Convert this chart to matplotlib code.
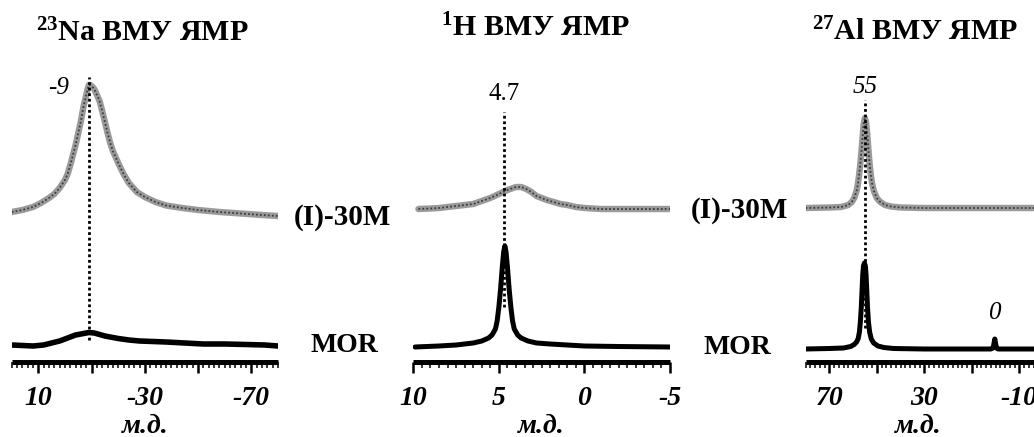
import matplotlib
matplotlib.use('Agg')
import matplotlib.pyplot as plt
from matplotlib.ticker import FixedLocator, MultipleLocator, FixedFormatter

plt.rcParams['font.family'] = ['Liberation Serif', 'DejaVu Serif']
plt.rcParams['mathtext.fontset'] = 'custom'
plt.rcParams['mathtext.rm'] = 'Liberation Serif:bold'
plt.rcParams['mathtext.it'] = 'Liberation Serif:italic:bold'
plt.rcParams['mathtext.bf'] = 'Liberation Serif:bold'

# ---------------- data ----------------
titles = ['$^{23}$Na ВМУ ЯМР', '$^{1}$H ВМУ ЯМР', '$^{27}$Al ВМУ ЯМР']
sample_top = '(I)-30M'
sample_bottom = 'MOR'
x_label = 'м.д.'

# 23Na
na_ppm_30m = [20, 16, 12, 9, 6, 4, 2, 0, -1, -2, -3, -4, -5, -6, -7, -8, -8.5, -9, -9.5,
              -10, -11, -12, -13, -14, -15, -16, -17, -18, -19, -20, -22, -24, -27, -30,
              -34, -38, -44, -50, -58, -66, -74, -80]
na_int_30m = [4, 6, 9, 13, 18, 22, 28, 36, 42, 51, 61, 71, 83, 95, 110, 121, 127, 131, 131,
              130, 127, 121, 115, 105, 94, 83, 73, 65, 59, 53, 42, 33, 24, 19,
              14, 10.5, 8, 6, 4, 2.5, 1, 0]
na_ppm_mor = [20, 16, 12, 8, 5, 2, 0, -2, -4, -6, -8, -9, -11, -13, -15, -17, -20, -24,
              -28, -33, -38, -45, -52, -60, -68, -75, -80]
na_int_mor = [1, 0.5, 0, 1, 3, 5, 7, 9, 11, 12, 13, 13.5, 13, 11.5, 10, 9, 7.5, 6,
              5, 4.5, 4, 3, 2, 2, 1.5, 1, 0]
na_peak = -9
na_peak_label = '-9'
na_ticks = [10, -10, -30, -50, -70]
na_ticklabels = ['10', '', '-30', '', '-70']

# 1H
h_ppm_30m = [9.7, 9.0, 8.5, 8.0, 7.5, 7.0, 6.5, 6.0, 5.5, 5.0, 4.5, 4.0, 3.7, 3.4, 3.1,
             2.8, 2.5, 2.2, 1.8, 1.4, 1.0, 0.5, 0.0, -0.5, -1.0, -5.0]
h_int_30m = [0, 0.5, 1, 2, 3, 4, 5, 8, 11, 15, 19, 22, 22, 20, 17,
             13, 11, 9, 7, 5, 4, 2, 1, 0.5, 0, 0]
h_ppm_mor = [9.9, 8.5, 7.5, 6.5, 6.0, 5.6, 5.4, 5.2, 5.1, 5.0, 4.9, 4.8, 4.72, 4.65,
             4.58, 4.5, 4.4, 4.3, 4.2, 4.1, 3.9, 3.7, 3.3, 2.8, 2.0, 1.0, 0.0, -2.0, -5.0]
h_int_mor = [0, 1, 2, 4, 6, 9, 12, 18, 26, 40, 58, 80, 95, 101,
             95, 80, 58, 40, 26, 18, 12, 9, 6, 4, 3, 2, 1, 0.5, 0]
h_peak = 4.7
h_peak_label = '4.7'
h_ticks = [10, 5, 0, -5]
h_ticklabels = ['10', '5', '0', '-5']

# 27Al
al_ppm_30m = [80, 70, 65, 62, 60.5, 59.5, 58.5, 58, 57.5, 57, 56.5, 56, 55.5, 55, 54.5,
              54, 53.5, 53, 52.5, 52, 51.2, 50, 48.5, 46.5, 44, 40, 30, -20]
al_int_30m = [0, 0.5, 1, 3, 6, 10, 17, 23, 32, 42, 55, 70, 84, 90, 86,
              74, 58, 44, 33, 25, 17, 10, 6, 3, 1.5, 0.5, 0, 0]
al_ppm_mor = [80, 70, 64, 61, 59.5, 58.5, 57.8, 57.3, 56.9, 56.5, 56.2, 55.9, 55.6, 55.2,
              54.8, 54.5, 54.2, 53.9, 53.5, 53.0, 52.3, 51.3, 49.5, 47, 43, 30,
              2, 1, 0.6, 0.3, 0, -0.4, -1, -20]
al_int_mor = [0, 0.5, 1, 2.5, 4.5, 7, 10.5, 17, 27, 42, 58, 74, 83, 86,
              83, 74, 58, 42, 27, 17, 10, 6, 3, 1.5, 0.5, 0,
              0, 1, 6, 10, 6, 1, 0, 0]
al_peak = 55
al_peak_label = '55'
al_small_peak = 0.4
al_small_label = '0'
al_ticks = [70, 50, 30, 10, -10]
al_ticklabels = ['70', '', '30', '', '-10']

# ---------------- layout ----------------
W, H = 1034, 437
fig = plt.figure(figsize=(W / 100, H / 100), dpi=100)

def add_ax(left_px, width_px, bottom_px=362, top_px=60):
    return fig.add_axes([left_px / W, (H - bottom_px) / H, width_px / W, (bottom_px - top_px) / H])

ax1 = add_ax(11.7, 266.3)
ax2 = add_ax(413.3, 256.7)
ax3 = add_ax(805.5, 237.5)

GRAY_BASE = '#9a9a9a'
GRAY_DOT = '#3c3c3c'

def gray_trace(ax, x, y, off):
    yy = [v + off for v in y]
    ax.plot(x, yy, color=GRAY_BASE, lw=4.6, solid_joinstyle='round', solid_capstyle='round', zorder=3)
    ax.plot(x, yy, color=GRAY_DOT, lw=1.3, ls=(0, (1, 1.2)), zorder=4)

def black_trace(ax, x, y, off, lw=3.6):
    yy = [v + off for v in y]
    ax.plot(x, yy, color='black', lw=lw, solid_joinstyle='round', solid_capstyle='round', zorder=3)

def style_axis(ax, xlim, ticks, labels, minor, label_x):
    ax.set_xlim(*xlim)
    ax.set_ylim(0, 302)
    for s in ['top', 'left', 'right']:
        ax.spines[s].set_visible(False)
    ax.spines['bottom'].set_linewidth(3.6)
    ax.spines['bottom'].set_capstyle('butt')
    ax.set_yticks([])
    ax.xaxis.set_major_locator(FixedLocator(ticks))
    ax.xaxis.set_major_formatter(FixedFormatter(labels))
    ax.xaxis.set_minor_locator(MultipleLocator(minor))
    ax.tick_params(axis='x', which='major', direction='out', length=8, width=1.8, pad=9)
    ax.tick_params(axis='x', which='minor', direction='out', length=4, width=1.1)
    for t in ax.get_xticklabels():
        t.set_fontsize(20)
        t.set_fontweight('bold')
        t.set_fontstyle('italic')
    ax.set_xlabel(x_label, fontsize=20, fontweight='bold', fontstyle='italic')
    ax.xaxis.set_label_coords(label_x, -0.212)
    ax.xaxis.label.set_va('center')
    ax.patch.set_alpha(0)

# Na panel
gray_trace(ax1, na_ppm_30m, na_int_30m, 146)
black_trace(ax1, na_ppm_mor, na_int_mor, 16, lw=4.0)
ax1.plot([na_peak, na_peak], [22, 285], color='black', lw=2.0, ls=(0, (1, 1)), zorder=5)
ax1.text(2.4, 274, na_peak_label, fontsize=18, fontstyle='italic', ha='center', va='center')
style_axis(ax1, (20, -80), na_ticks, na_ticklabels, 2, 0.5)

# H panel
gray_trace(ax2, h_ppm_30m, h_int_30m, 153)
black_trace(ax2, h_ppm_mor, h_int_mor, 15)
ax2.plot([h_peak, h_peak], [55, 250], color='black', lw=2.0, ls=(0, (1, 1)), zorder=5)
ax2.text(h_peak, 268, h_peak_label, fontsize=18, ha='center', va='center')
style_axis(ax2, (10, -5), h_ticks, h_ticklabels, 0.5, 0.5)

# Al panel
gray_trace(ax3, al_ppm_30m, al_int_30m, 154)
black_trace(ax3, al_ppm_mor, al_int_mor, 13)
ax3.plot([al_peak, al_peak], [34, 262], color='black', lw=2.0, ls=(0, (1, 1)), zorder=5)
ax3.text(al_peak, 275, al_peak_label, fontsize=18, fontstyle='italic', ha='center', va='center')
ax3.text(al_small_peak, 49, al_small_label, fontsize=18, fontstyle='italic', ha='center', va='center')
style_axis(ax3, (80, -20), al_ticks, al_ticklabels, 2, 0.474)

# titles
for (cx, cy), t in zip([(142, 33), (535, 28), (915, 32)], titles):
    fig.text(cx / W, 1 - cy / H, t, fontsize=21.5, fontweight='bold', ha='center', va='center')

# sample labels
for (cx, cy) in [(342, 217), (739, 211)]:
    fig.text(cx / W, 1 - cy / H, sample_top, fontsize=21, fontweight='bold', ha='center', va='center')
for (cx, cy) in [(344, 345), (737, 347)]:
    fig.text(cx / W, 1 - cy / H, sample_bottom, fontsize=20, fontweight='bold', ha='center', va='center')

fig.savefig('out.png', dpi=100)
